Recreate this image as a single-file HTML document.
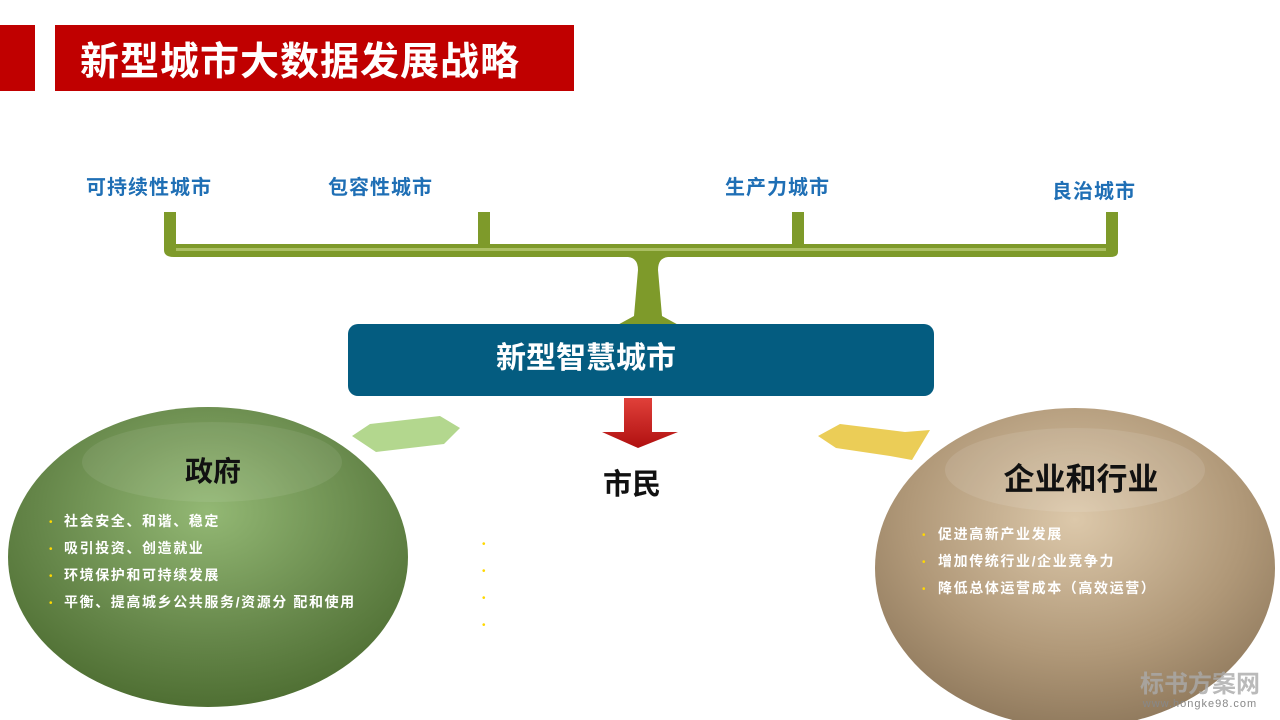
<!DOCTYPE html>
<html><head><meta charset="utf-8"><style>
body{margin:0;width:1280px;height:720px;overflow:hidden;background:#fff;font-family:"Liberation Sans","Noto Sans CJK SC",sans-serif;}
</style></head><body>
<svg width="1280" height="720" xmlns="http://www.w3.org/2000/svg" style="position:absolute;left:0;top:0">
<defs>
<radialGradient id="gl" cx="0.5" cy="0.35" r="0.7"><stop offset="0" stop-color="#93b874"/><stop offset="0.6" stop-color="#66874a"/><stop offset="1" stop-color="#4a6a2e"/></radialGradient>
<radialGradient id="gr" cx="0.5" cy="0.35" r="0.7"><stop offset="0" stop-color="#dcc8aa"/><stop offset="0.6" stop-color="#b09878"/><stop offset="1" stop-color="#8a7458"/></radialGradient>
<linearGradient id="ar" x1="0" y1="0" x2="0" y2="1"><stop offset="0" stop-color="#e0403a"/><stop offset="1" stop-color="#b01010"/></linearGradient>
</defs>
<rect x="0" y="25" width="35" height="66" fill="#c00000"/>
<rect x="55" y="25" width="519" height="66" fill="#c00000"/>
<text x="80" y="75" font-size="39" font-weight="bold" fill="#fff" letter-spacing="1">新型城市大数据发展战略</text>
<g font-size="20" font-weight="bold" fill="#1f6fb5" letter-spacing="1">
<text x="86" y="194">可持续性城市</text><text x="328" y="194">包容性城市</text>
<text x="725" y="194">生产力城市</text><text x="1052" y="198">良治城市</text></g>
<g fill="#7e9a2a">
<rect x="164" y="212" width="12" height="38"/><rect x="478" y="212" width="12" height="38"/>
<rect x="792" y="212" width="12" height="38"/><rect x="1106" y="212" width="12" height="38"/>
<path d="M164 244 H1118 V252 Q1118 257 1110 257 H668 Q658 258 658 270 L662 316 L684 328 H612 L634 316 L638 270 Q638 258 628 257 H174 Q164 257 164 250Z"/>
</g>
<rect x="176" y="248" width="930" height="3" fill="#c9d98a" opacity="0.6"/>
<rect x="348" y="324" width="586" height="72" rx="10" fill="#045c80"/>
<text x="586" y="368" font-size="30" font-weight="bold" fill="#fff" text-anchor="middle">新型智慧城市</text>
<path d="M624 398 H652 V432 H678 L638 448 L602 432 H624Z" fill="url(#ar)"/>
<path d="M460 428 L440 416 L370 424 L352 436 L376 452 L444 444Z" fill="#a6d07a" opacity="0.85"/>
<path d="M818 436 L840 424 L905 432 L930 430 L912 460 L890 456 L836 448Z" fill="#e8c43a" opacity="0.85"/>
<ellipse cx="208" cy="557" rx="200" ry="150" fill="url(#gl)"/>
<ellipse cx="212" cy="462" rx="130" ry="40" fill="#ffffff" opacity="0.08"/>
<ellipse cx="1075" cy="568" rx="200" ry="160" fill="url(#gr)"/>
<ellipse cx="1075" cy="470" rx="130" ry="42" fill="#ffffff" opacity="0.1"/>
<text x="213" y="481" font-size="28" font-weight="bold" fill="#111" text-anchor="middle">政府</text>
<text x="632" y="494" font-size="29" font-weight="bold" fill="#111" text-anchor="middle">市民</text>
<text x="1081" y="490" font-size="31" font-weight="bold" fill="#111" text-anchor="middle">企业和行业</text>
<g font-size="14" font-weight="bold" fill="#fff" letter-spacing="1.6">
<text x="64" y="526">社会安全、和谐、稳定</text><text x="64" y="553">吸引投资、创造就业</text>
<text x="64" y="580">环境保护和可持续发展</text><text x="64" y="607">平衡、提高城乡公共服务/资源分 配和使用</text>
<text x="938" y="539">促进高新产业发展</text><text x="938" y="566">增加传统行业/企业竞争力</text>
<text x="938" y="593">降低总体运营成本（高效运营）</text></g>
<g font-size="10" fill="#ffd800">
<text x="49" y="525">•</text><text x="49" y="552">•</text><text x="49" y="579">•</text><text x="49" y="606">•</text>
<text x="922" y="538">•</text><text x="922" y="565">•</text><text x="922" y="592">•</text>
<text x="482" y="547">•</text><text x="482" y="574">•</text><text x="482" y="601">•</text><text x="482" y="628">•</text></g>
<text x="1200" y="692" font-size="24" font-weight="bold" fill="#aaa" text-anchor="middle" opacity="0.8">标书方案网</text>
<text x="1200" y="707" font-size="11" fill="#888" text-anchor="middle" letter-spacing="1">www.hongke98.com</text>
</svg>
</body></html>
